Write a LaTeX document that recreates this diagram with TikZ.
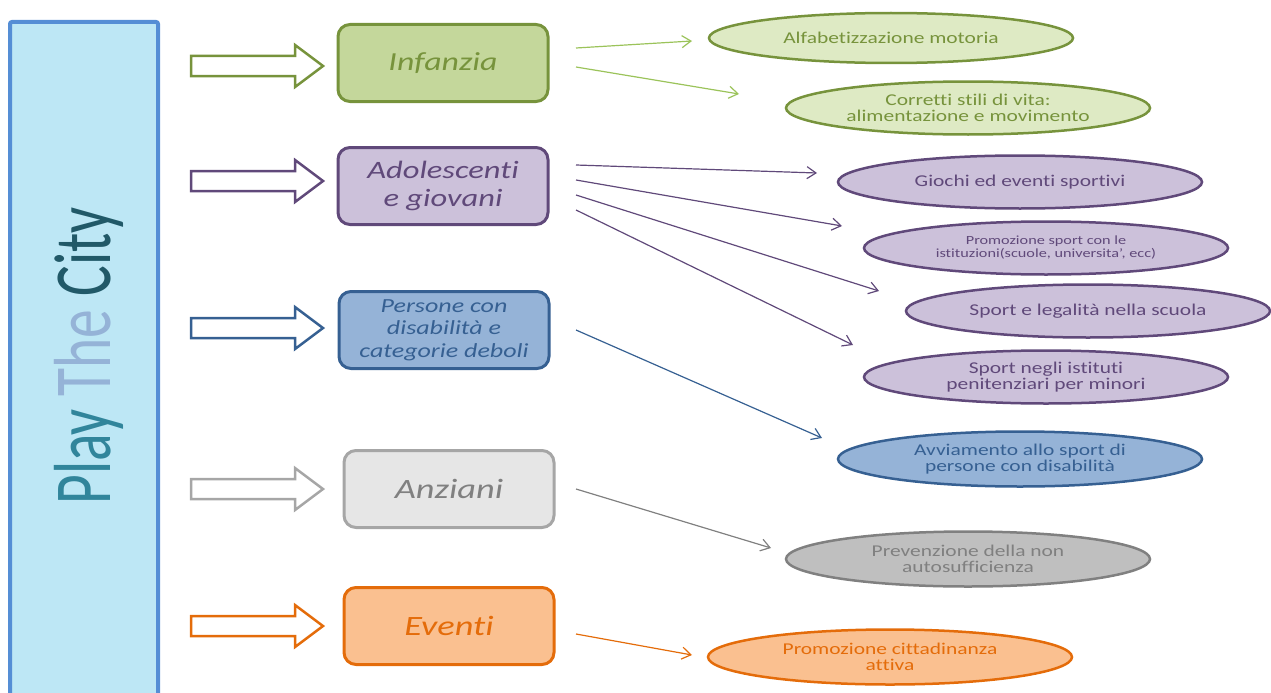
\documentclass[tikz,border=0pt]{standalone}
\usepackage{fontspec}
\usepackage{graphicx}
\setmainfont{Carlito}[FakeStretch=1.3, Ligatures=NoCommon]
\newfontfamily\titlefont{Carlito}
\usetikzlibrary{shapes.geometric,arrows.meta}

\definecolor{grn}{RGB}{119,147,60}
\definecolor{grnline}{RGB}{155,195,90}
\definecolor{grnbox}{RGB}{196,215,155}
\definecolor{grnell}{RGB}{222,234,196}
\definecolor{pur}{RGB}{96,73,122}
\definecolor{purbox}{RGB}{204,193,218}
\definecolor{blu}{RGB}{54,96,146}
\definecolor{blubox}{RGB}{149,179,215}
\definecolor{gry}{RGB}{166,166,166}
\definecolor{grybox}{RGB}{230,230,230}
\definecolor{grydark}{RGB}{128,128,128}
\definecolor{gryell}{RGB}{191,191,191}
\definecolor{org}{RGB}{228,108,10}
\definecolor{orgbox}{RGB}{250,192,144}
\definecolor{barline}{RGB}{85,142,213}
\definecolor{barfill}{RGB}{189,231,245}
\definecolor{playcol}{RGB}{49,133,155}
\definecolor{thecol}{RGB}{149,179,215}
\definecolor{citycol}{RGB}{33,89,104}

\tikzset{
  grp/.style={draw, rounded corners=12pt, line width=3pt, minimum width=210pt,
    minimum height=77pt, align=center, inner sep=2pt},
  act/.style={ellipse, draw, line width=2.5pt, minimum width=364pt,
    minimum height=53pt, inner sep=0pt, align=center,
    font=\fontsize{16.5}{15.5}\selectfont},
  lnk/.style={-{Straight Barb[length=9pt,width=12pt]}, line width=1.2pt},
  hollow/.style={line width=2.5pt, fill=white, line join=miter},
}

\begin{document}
\begin{tikzpicture}[x=1pt,y=-1pt]
\useasboundingbox (0,0) rectangle (1271,693);

% side bar
\draw[line width=4pt, draw=barline, fill=barfill, rounded corners=2pt] (10,22) rectangle (158,720);
\node[rotate=90, anchor=base, inner sep=0pt] (ttl) at (110,356)
  {\scalebox{0.71}[1]{\titlefont\fontsize{81}{81}\selectfont
   \color{playcol}Play \color{thecol}The \color{citycol}City}};

% hollow arrows
\foreach \y/\c in {66/grn,181/pur,328/blu,489/gry,626/org}
  \draw[hollow, draw=\c] (191,\y-10) -- (295,\y-10) -- (295,\y-21) -- (323,\y)
    -- (295,\y+21) -- (295,\y+10) -- (191,\y+10) -- cycle;

% target groups
\node[grp, draw=grn, fill=grnbox, text=grn, font=\fontsize{26}{28}\selectfont\itshape] (inf) at (443,63) {Infanzia};
\node[grp, draw=pur, fill=purbox, text=pur, font=\fontsize{25}{28}\selectfont\itshape] (ado) at (443,186) {Adolescenti\\e giovani};
\node[grp, draw=blu, fill=blubox, text=blu, font=\fontsize{20}{22.5}\selectfont\itshape] (dis) at (444,330) {Persone con\\disabilità e\\categorie deboli};
\node[grp, draw=gry, fill=grybox, text=grydark, font=\fontsize{28}{30}\selectfont\itshape] (anz) at (449,489) {Anziani};
\node[grp, draw=org, fill=orgbox, text=org, font=\fontsize{28}{30}\selectfont\itshape] (eve) at (449,626) {Eventi};

% activities
\node[act, draw=grn, fill=grnell, text=grn, minimum height=50pt] (alf) at (891,38) {Alfabetizzazione motoria};
\node[act, draw=grn, fill=grnell, text=grn] (cor) at (968,108) {Corretti stili di vita:\\alimentazione e movimento};
\node[act, draw=pur, fill=purbox, text=pur] (gio) at (1020,182) {Giochi ed eventi sportivi};
\node[act, draw=pur, fill=purbox, text=pur, font=\fontsize{12.5}{13}\selectfont] (pro) at (1046,248) {Promozione sport con le\\istituzioni(scuole, universita’, ecc)};
\node[act, draw=pur, fill=purbox, text=pur] (leg) at (1088,311) {Sport e legalità nella scuola};
\node[act, draw=pur, fill=purbox, text=pur] (pen) at (1046,377) {Sport negli istituti\\penitenziari per minori};
\node[act, draw=blu, fill=blubox, text=blu, minimum height=55pt] (avv) at (1020,459) {Avviamento allo sport di\\persone con disabilità};
\node[act, draw=grydark, fill=gryell, text=grydark, minimum height=55pt] (pre) at (968,559) {Prevenzione della non\\autosufficienza};
\node[act, draw=org, fill=orgbox, text=org, minimum height=55pt] (cit) at (890,657) {Promozione cittadinanza\\attiva};

% arrow ends
\coordinate (inf-a) at (576,48);  \coordinate (alf-in) at (692,41);
\coordinate (inf-b) at (576,67);  \coordinate (cor-in) at (739,94);
\coordinate (ado-a) at (576,165); \coordinate (gio-in) at (817,173);
\coordinate (ado-b) at (576,180); \coordinate (pro-in) at (842,226);
\coordinate (ado-c) at (576,195); \coordinate (leg-in) at (879,291);
\coordinate (ado-d) at (576,210); \coordinate (pen-in) at (853,345);
\coordinate (dis-a) at (576,330); \coordinate (avv-in) at (822,438);
\coordinate (anz-a) at (576,489); \coordinate (pre-in) at (771,548);
\coordinate (eve-a) at (576,634); \coordinate (cit-in) at (692,655);

\draw[lnk, draw=grnline] (inf-a) -- (alf-in);
\draw[lnk, draw=grnline] (inf-b) -- (cor-in);
\draw[lnk, draw=pur] (ado-a) -- (gio-in);
\draw[lnk, draw=pur] (ado-b) -- (pro-in);
\draw[lnk, draw=pur] (ado-c) -- (leg-in);
\draw[lnk, draw=pur] (ado-d) -- (pen-in);
\draw[lnk, draw=blu] (dis-a) -- (avv-in);
\draw[lnk, draw=grydark] (anz-a) -- (pre-in);
\draw[lnk, draw=org] (eve-a) -- (cit-in);
\end{tikzpicture}
\end{document}
